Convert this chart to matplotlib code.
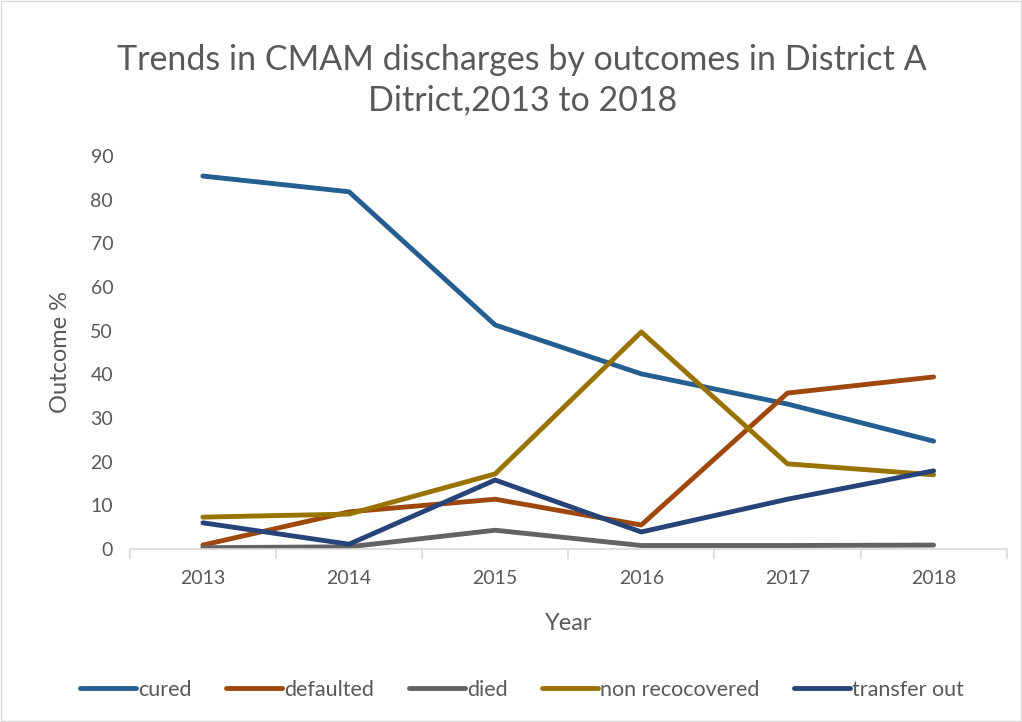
import matplotlib
matplotlib.use("Agg")
import matplotlib.pyplot as plt

# Data
years = ["2013", "2014", "2015", "2016", "2017", "2018"]
cured = [85.4, 81.8, 51.3, 40.1, 33.2, 24.7]
defaulted = [0.9, 8.5, 11.4, 5.5, 35.7, 39.4]
died = [0.3, 0.5, 4.3, 0.8, 0.8, 0.9]
non_recovered = [7.3, 8.0, 17.2, 49.7, 19.5, 17.0]
transfer_out = [6.0, 1.1, 15.8, 3.9, 11.4, 17.9]

series = [
    ("cured", cured, "#255E91"),
    ("defaulted", defaulted, "#9E480E"),
    ("died", died, "#636363"),
    ("non recocovered", non_recovered, "#997300"),
    ("transfer out", transfer_out, "#264478"),
]

plt.rcParams['font.family'] = ['Lato', 'DejaVu Sans']
text_color = "#595959"

fig = plt.figure(figsize=(10.22, 7.22), dpi=100)
ax = fig.add_axes([0.127, 0.2396, 0.858, 0.5444])

x = list(range(len(years)))
for name, vals, col in series:
    ax.plot(x, vals, color=col, linewidth=3.5, label=name,
            solid_capstyle='round', solid_joinstyle='round')

ax.set_xlim(-0.5, len(years) - 0.5)
ax.set_ylim(0, 90)
ax.set_yticks(range(0, 91, 10))
ax.set_xticks(x)
ax.set_xticklabels(years)
ax.set_xticks([i - 0.5 for i in range(len(years) + 1)], minor=True)

for s in ["top", "right", "left"]:
    ax.spines[s].set_visible(False)
ax.spines["bottom"].set_color("#d9d9d9")
ax.spines["bottom"].set_linewidth(1.2)

ax.tick_params(axis='x', which='major', length=0, pad=15, labelsize=14, labelcolor=text_color)
ax.tick_params(axis='x', which='minor', length=7, width=1.2, color="#d9d9d9")
ax.tick_params(axis='y', length=0, pad=12, labelsize=14, labelcolor=text_color)

ax.set_xlabel("Year", fontsize=17, color=text_color, labelpad=19)
ax.set_ylabel("Outcome %", fontsize=17, color=text_color, labelpad=14)

fig.suptitle("Trends in CMAM discharges by outcomes in District A\nDitrict,2013 to 2018",
             x=0.511, y=0.939, fontsize=24.5, color=text_color, linespacing=1.3)

fig.legend(loc="center", bbox_to_anchor=(0.511, 0.045), ncol=5, frameon=False,
           fontsize=15.5, labelcolor=text_color, handlelength=2.6, handletextpad=0.1,
           columnspacing=1.6)

fig.patches.append(plt.Rectangle((0.001, 0.001), 0.998, 0.998, transform=fig.transFigure,
                                 fill=False, edgecolor="#d9d9d9", linewidth=1))

fig.savefig("out.png", dpi=100)
